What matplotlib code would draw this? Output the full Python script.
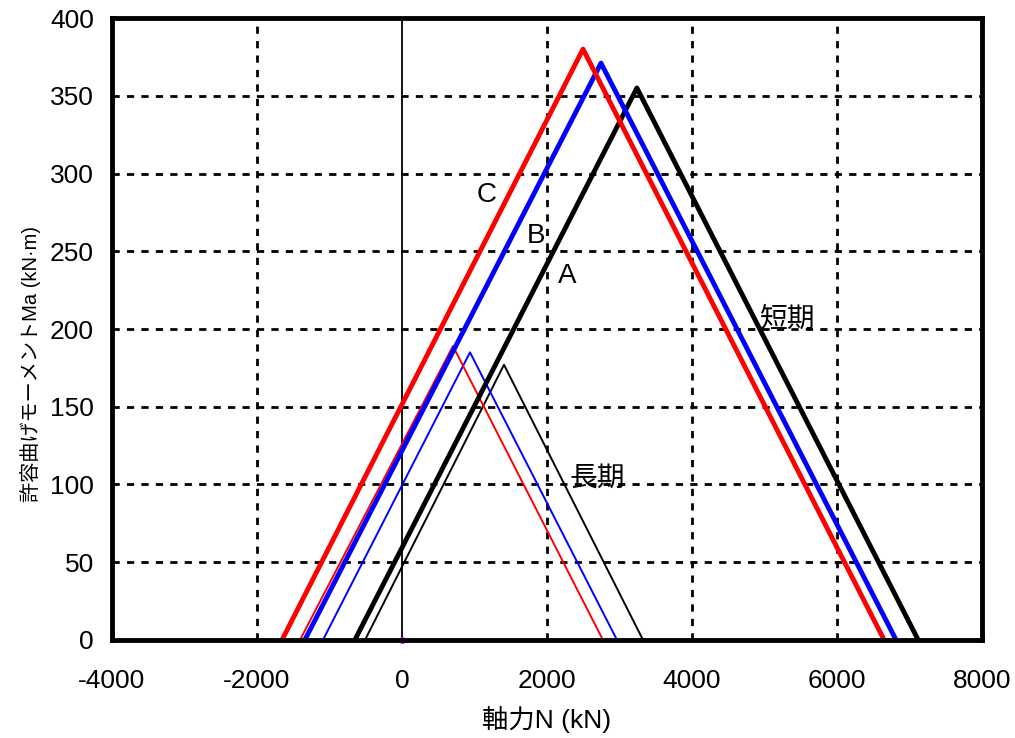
import matplotlib
matplotlib.use("Agg")
import matplotlib.pyplot as plt

plt.rcParams['font.family'] = ['Liberation Sans', 'Noto Sans CJK JP', 'DejaVu Sans']
plt.rcParams['axes.unicode_minus'] = False

# 短期 (short term) triangles: N at Ma=0 (left), peak N, N at Ma=0 (right)
short_A_N = [-650, 3240, 7120]
short_A_M = [0, 355, 0]
short_B_N = [-1340, 2745, 6815]
short_B_M = [0, 371, 0]
short_C_N = [-1655, 2497, 6650]
short_C_M = [0, 380, 0]

# 長期 (long term)
long_A_N = [-510, 1407, 3325]
long_A_M = [0, 177, 0]
long_B_N = [-1090, 938, 2966]
long_B_M = [0, 185, 0]
long_C_N = [-1407, 703, 2772]
long_C_M = [0, 189, 0]

labels = ["C", "B", "A"]
label_pos = [(1172, 286), (1848, 260), (2276, 234)]

fig = plt.figure(figsize=(10.15, 7.38), dpi=100)
ax = fig.add_axes([0.1103, 0.1328, 0.8572, 0.8428])

# grid
for gx in [-2000, 2000, 4000, 6000]:
    ax.axvline(gx, color='black', lw=2, ls=(0, (2.6, 2.6)), zorder=1)
for gy in range(50, 400, 50):
    ax.axhline(gy, color='black', lw=2, ls=(0, (2.6, 2.6)), zorder=1)
ax.axvline(0, color='black', lw=1.3, zorder=2)

ax.plot(long_A_N, long_A_M, color='black', lw=1.4, zorder=3)
ax.plot(long_B_N, long_B_M, color='blue', lw=1.4, zorder=3)
ax.plot(long_C_N, long_C_M, color='red', lw=1.4, zorder=3)
ax.plot(short_A_N, short_A_M, color='black', lw=3.5, zorder=4)
ax.plot(short_B_N, short_B_M, color='blue', lw=3.5, zorder=4)
ax.plot(short_C_N, short_C_M, color='red', lw=3.5, zorder=4)
ax.plot([0], [0], marker='o', color='magenta', ms=4, zorder=5, clip_on=False)

for t, (px, py) in zip(labels, label_pos):
    ax.text(px, py, t, fontsize=20, ha='center', va='center', zorder=6)
ax.text(5310, 206, "短期", fontsize=20, ha='center', va='center', zorder=6)
ax.text(2690, 104, "長期", fontsize=20, ha='center', va='center', zorder=6)

ax.set_xlim(-4000, 8000)
ax.set_ylim(0, 400)
ax.set_xticks(range(-4000, 8001, 2000))
ax.set_yticks(range(0, 401, 50))
ax.tick_params(axis='both', labelsize=19, length=0)
ax.tick_params(axis='x', pad=21)
ax.tick_params(axis='y', pad=13)
for s in ax.spines.values():
    s.set_linewidth(3.5)
    s.set_zorder(7)

ax.set_xlabel("軸力N (kN)", fontsize=19, labelpad=9)
yl = ax.set_ylabel("許容曲げモーメントMa (kN·m)", fontsize=14.5)
yl.set_va('center')
ax.yaxis.set_label_coords(-0.094, 0.444)

fig.savefig("out.png", dpi=100)
